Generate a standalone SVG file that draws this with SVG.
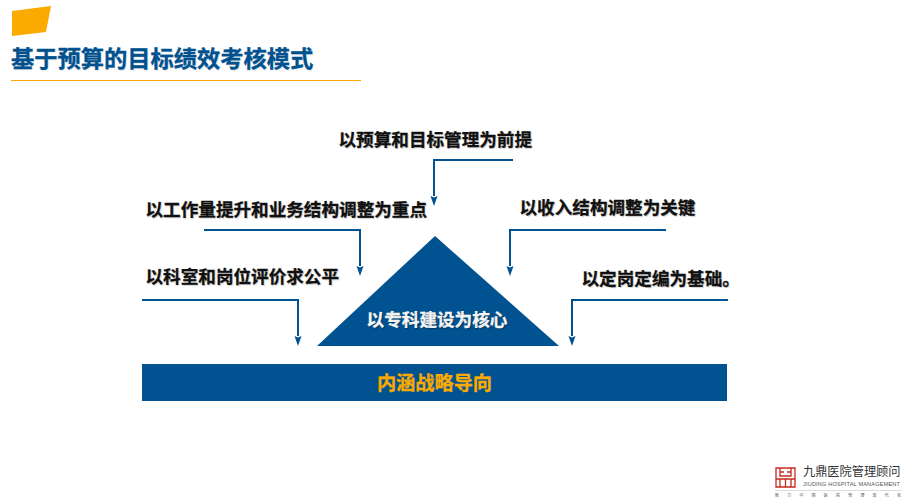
<svg xmlns="http://www.w3.org/2000/svg" width="908" height="501" viewBox="0 0 908 501">
<style>
text{font-family:"Liberation Sans","Noto Sans CJK SC",sans-serif}
.l{font-size:17.6px;font-weight:700;fill:#111;stroke:#111;stroke-width:.3px;text-shadow:1px 1px 1px rgba(0,0,0,.15)}
.c{fill:none;stroke:#005291;stroke-width:2px}
.a{fill:#005291}
.r{fill:none;stroke:#c8281e;stroke-width:1.3px}
</style>
<defs><polygon id="h" class="a" points="-3.500,-10 0,-8.400 3.500,-10 0,0"/></defs>
<polygon points="12,11 51,6 46,32 12,36" fill="#fbaa00"/>
<text x="11" y="67" font-size="23.250" font-weight="700" fill="#005291" stroke="#005291" stroke-width=".3" style="text-shadow:1px 1px 1px rgba(0,0,0,.08)">基于预算的目标绩效考核模式</text>
<rect x="11" y="80" width="350" height="1" fill="#fbaa00"/>
<g id="connectors">
<path class="c" d="M513,160H434V196"/><use href="#h" x="434" y="206"/>
<path class="c" d="M204,230H360V266"/><use href="#h" x="360" y="276"/>
<path class="c" d="M142,300H298V336"/><use href="#h" x="298" y="346"/>
<path class="c" d="M666,230H510V266"/><use href="#h" x="510" y="276"/>
<path class="c" d="M728,300H572V336"/><use href="#h" x="572" y="346"/>
</g>
<g id="n1"><text class="l" x="338.500" y="146">以预算和目标管理为前提</text></g>
<g id="n2"><text class="l" x="145.500" y="216">以工作量提升和业务结构调整为重点</text></g>
<g id="n3"><text class="l" x="145.500" y="283">以科室和岗位评价求公平</text></g>
<g id="n4"><text class="l" x="519.500" y="214">以收入结构调整为关键</text></g>
<g id="n5"><text class="l" x="581.500" y="285">以定岗定编为基础。</text></g>
<g id="triangle"><polygon class="a" points="435,236 559,346 317,346"/>
<text x="437" y="326" font-size="17.600" font-weight="700" fill="#fff" stroke="#fff" stroke-width=".3" text-anchor="middle" style="text-shadow:1px 1px 1px rgba(0,0,0,.3)">以专科建设为核心</text></g>
<g id="base"><rect class="a" x="142" y="364" width="585" height="37"/>
<text x="434.500" y="390" font-size="19.200" font-weight="700" fill="#fbaa00" stroke="#fbaa00" stroke-width=".3" text-anchor="middle">内涵战略导向</text></g>
<g id="logo">
<path class="r" d="M776,468H795V487H776ZM780,468V476H791V468M776,479H795M780,479V487M785.500,479V487M791,479V487M780,472H784M787,472H791"/>
<text x="803" y="476" font-size="12.200" fill="#333">九鼎医院管理顾问</text>
<text x="803" y="486" font-size="5.600" fill="#555" textLength="97">JIUDING HOSPITAL MANAGEMENT</text>
<rect x="775" y="490" width="126" height=".5" fill="#bbb"/>
<text x="775" y="497" font-size="4" fill="#555" textLength="126">致力中国医院管理现代化</text>
</g>
</svg>
